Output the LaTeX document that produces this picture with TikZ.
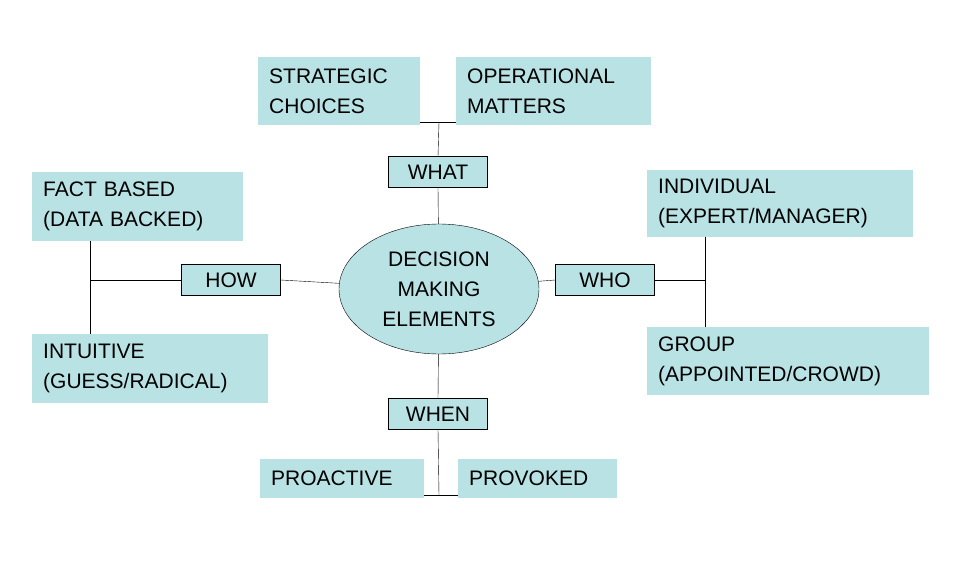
\documentclass[tikz,border=0pt]{standalone}
\usepackage{fontspec}
\setmainfont{Liberation Sans}
\usetikzlibrary{shapes.geometric}
\definecolor{paleteal}{RGB}{184,226,228}
\begin{document}
\begin{tikzpicture}[x=1pt,y=-1pt,
  every node/.style={font=\fontsize{21}{30}\selectfont},
  option/.style={fill=paleteal,anchor=north west,align=left,inner xsep=11pt,inner ysep=0pt},
  element/.style={draw,fill=paleteal,minimum width=99pt,minimum height=31pt,inner sep=0pt},
  hub/.style={ellipse,draw,fill=paleteal,minimum width=200pt,minimum height=130pt,align=center,inner sep=0pt}]
    %/ Frame
    \useasboundingbox (0,0) rectangle (963,588);

    %/ Centre and elements
    \node[hub] (hub) at (439,289) {DECISION\\MAKING\\ELEMENTS};
    \node[element] (what) at (438,172) {WHAT};
    \node[element] (when) at (438,414) {WHEN};
    \node[element] (how) at (231,280) {HOW};
    \node[element] (who) at (605,280) {WHO};

    %/ Options
    \node[option,minimum width=162pt,minimum height=68pt,text width=140pt] (strategic) at (258,57) {STRATEGIC\\CHOICES};
    \node[option,minimum width=195pt,minimum height=68pt,text width=173pt] (operational) at (456,57) {OPERATIONAL\\MATTERS};
    \node[option,minimum width=211pt,minimum height=69pt,text width=189pt] (fact) at (32,172) {FACT BASED\\(DATA BACKED)};
    \node[option,minimum width=236pt,minimum height=69pt,text width=214pt] (intuitive) at (32,334) {INTUITIVE\\(GUESS/RADICAL)};
    \node[option,minimum width=266pt,minimum height=67pt,text width=244pt] (individual) at (647,170) {INDIVIDUAL\\(EXPERT/MANAGER)};
    \node[option,minimum width=282pt,minimum height=68pt,text width=260pt] (group) at (647,327) {GROUP\\(APPOINTED/CROWD)};
    \node[option,minimum width=164pt,minimum height=39pt,text width=142pt] (proactive) at (260,459) {PROACTIVE};
    \node[option,minimum width=159pt,minimum height=39pt,text width=137pt] (provoked) at (458,459) {PROVOKED};

    %/ Connectors
    \coordinate (whatfork) at (439,122);
    \coordinate (whenfork) at (439,495);
    \coordinate (howfork) at (90,280);
    \coordinate (whofork) at (705,280);
    \draw (hub) -- (what.south);
    \draw (what.north) -- (whatfork);
    \draw (strategic.east |- whatfork) -- (operational.west |- whatfork);
    \draw (hub) -- (when.north);
    \draw (when.south) -- (whenfork);
    \draw (proactive.east |- whenfork) -- (provoked.west |- whenfork);
    \draw (hub) -- (how.east);
    \draw (how.west) -- (howfork);
    \draw (howfork |- fact.south) -- (howfork |- intuitive.north);
    \draw (hub) -- (who.west);
    \draw (who.east) -- (whofork);
    \draw (whofork |- individual.south) -- (whofork |- group.north);
\end{tikzpicture}
\end{document}
